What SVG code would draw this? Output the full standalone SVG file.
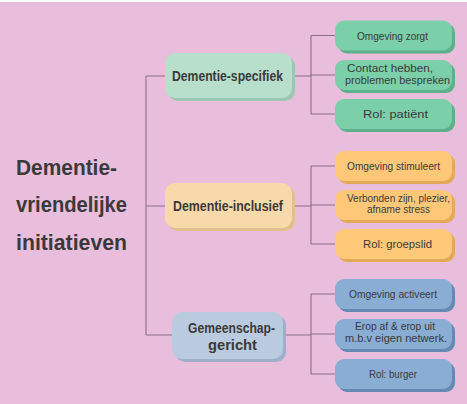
<svg xmlns="http://www.w3.org/2000/svg" width="467" height="404" viewBox="0 0 467 404">
<style>
.bg{fill:#E9BEDC}
.ln{stroke:#8C6E84;stroke-width:1.1;fill:none}
.t{font-family:"Liberation Sans",Arial,sans-serif;fill:#3A3A3A;text-anchor:middle}
.title{font-family:"Liberation Sans",Arial,sans-serif;font-weight:bold;font-size:22px;fill:#3A3A3A}
.main{font-weight:bold;font-size:15px}
.leaf{font-size:11.5px}
.gL{fill:#7BCFA9}.gLs{fill:#5DB08C}
.gM{fill:#B8DFCB}.gMs{fill:#9CC8B1}
.oL{fill:#FFC879}.oLs{fill:#E4AA57}
.oM{fill:#F8D9AA}.oMs{fill:#E2BF8C}
.bL{fill:#8AADD4}.bLs{fill:#6588B5}
.bM{fill:#BACBDF}.bMs{fill:#9CB0C8}
</style>
<rect class="bg" x="0" y="0" width="467" height="404"/>
<rect x="0" y="0" width="467" height="2" fill="#FFFFFF"/>

<g id="title">
<text class="title" x="16" y="175" textLength="101" lengthAdjust="spacingAndGlyphs">Dementie-</text>
<text class="title" x="16" y="212" textLength="111" lengthAdjust="spacingAndGlyphs">vriendelijke</text>
<text class="title" x="16" y="250" textLength="111" lengthAdjust="spacingAndGlyphs">initiatieven</text>
</g>

<g id="connectors">
<path class="ln" d="M146 76 V335 M146 76 H165 M146 206 H165 M146 335 H172"/>
<path class="ln" d="M292 76 H311 M311 35.5 V114 M311 35.5 H335 M311 75 H335 M311 114 H335"/>
<path class="ln" d="M292 206 H311 M311 166 V244 M311 166 H335 M311 205 H335 M311 244 H335"/>
<path class="ln" d="M283 335 H311 M311 294 V374 M311 294 H335 M311 334 H335 M311 374 H335"/>
</g>

<g id="n-specifiek">
<rect class="gMs" x="168" y="56" width="127" height="45" rx="10"/>
<rect class="gM" x="165" y="53" width="127" height="45" rx="10"/>
<text class="t main" x="227.5" y="81" textLength="111" lengthAdjust="spacingAndGlyphs">Dementie-specifiek</text>
</g>
<g id="n-inclusief">
<rect class="oMs" x="168" y="186" width="127" height="45" rx="10"/>
<rect class="oM" x="165" y="183" width="127" height="45" rx="10"/>
<text class="t main" x="228" y="211" textLength="110" lengthAdjust="spacingAndGlyphs">Dementie-inclusief</text>
</g>
<g id="n-gemeenschap">
<rect class="bMs" x="175" y="315" width="111" height="47" rx="10"/>
<rect class="bM" x="172" y="312" width="111" height="47" rx="10"/>
<text class="t main" x="231.5" y="333" textLength="87" lengthAdjust="spacingAndGlyphs">Gemeenschap-</text>
<text class="t main" x="232.5" y="350" textLength="49" lengthAdjust="spacingAndGlyphs">gericht</text>
</g>

<g id="g1">
<rect class="gLs" x="338" y="23.5" width="117" height="30" rx="9"/>
<rect class="gL" x="335" y="20.5" width="117" height="30" rx="9"/>
<text class="t leaf" x="392.5" y="40" textLength="71" lengthAdjust="spacingAndGlyphs">Omgeving zorgt</text>
</g>
<g id="g2">
<rect class="gLs" x="338" y="63" width="117" height="30" rx="9"/>
<rect class="gL" x="335" y="60" width="117" height="30" rx="9"/>
<text class="t leaf" x="390" y="72" textLength="86" lengthAdjust="spacingAndGlyphs">Contact hebben,</text>
<text class="t leaf" x="397.5" y="84" textLength="105" lengthAdjust="spacingAndGlyphs">problemen bespreken</text>
</g>
<g id="g3">
<rect class="gLs" x="338" y="102" width="117" height="30" rx="9"/>
<rect class="gL" x="335" y="99" width="117" height="30" rx="9"/>
<text class="t leaf" x="395.5" y="118" textLength="65" lengthAdjust="spacingAndGlyphs">Rol: patiënt</text>
</g>

<g id="o1">
<rect class="oLs" x="338" y="154" width="117" height="30" rx="9"/>
<rect class="oL" x="335" y="151" width="117" height="30" rx="9"/>
<text class="t leaf" x="393.5" y="170" textLength="93" lengthAdjust="spacingAndGlyphs">Omgeving stimuleert</text>
</g>
<g id="o2">
<rect class="oLs" x="338" y="193" width="117" height="30" rx="9"/>
<rect class="oL" x="335" y="190" width="117" height="30" rx="9"/>
<text class="t leaf" x="398.5" y="201.5" textLength="103" lengthAdjust="spacingAndGlyphs">Verbonden zijn, plezier,</text>
<text class="t leaf" x="398.5" y="213" textLength="63" lengthAdjust="spacingAndGlyphs">afname stress</text>
</g>
<g id="o3">
<rect class="oLs" x="338" y="232" width="117" height="30" rx="9"/>
<rect class="oL" x="335" y="229" width="117" height="30" rx="9"/>
<text class="t leaf" x="397.5" y="248" textLength="69" lengthAdjust="spacingAndGlyphs">Rol: groepslid</text>
</g>

<g id="b1">
<rect class="bLs" x="338" y="282" width="117" height="30" rx="9"/>
<rect class="bL" x="335" y="279" width="117" height="30" rx="9"/>
<text class="t leaf" x="393" y="298" textLength="88" lengthAdjust="spacingAndGlyphs">Omgeving activeert</text>
</g>
<g id="b2">
<rect class="bLs" x="338" y="322" width="117" height="30" rx="9"/>
<rect class="bL" x="335" y="319" width="117" height="30" rx="9"/>
<text class="t leaf" x="395" y="330" textLength="80" lengthAdjust="spacingAndGlyphs">Erop af &amp; erop uit</text>
<text class="t leaf" x="396" y="342" textLength="102" lengthAdjust="spacingAndGlyphs">m.b.v eigen netwerk.</text>
</g>
<g id="b3">
<rect class="bLs" x="338" y="362" width="117" height="30" rx="9"/>
<rect class="bL" x="335" y="359" width="117" height="30" rx="9"/>
<text class="t leaf" x="393" y="378" textLength="48" lengthAdjust="spacingAndGlyphs">Rol: burger</text>
</g>
</svg>
